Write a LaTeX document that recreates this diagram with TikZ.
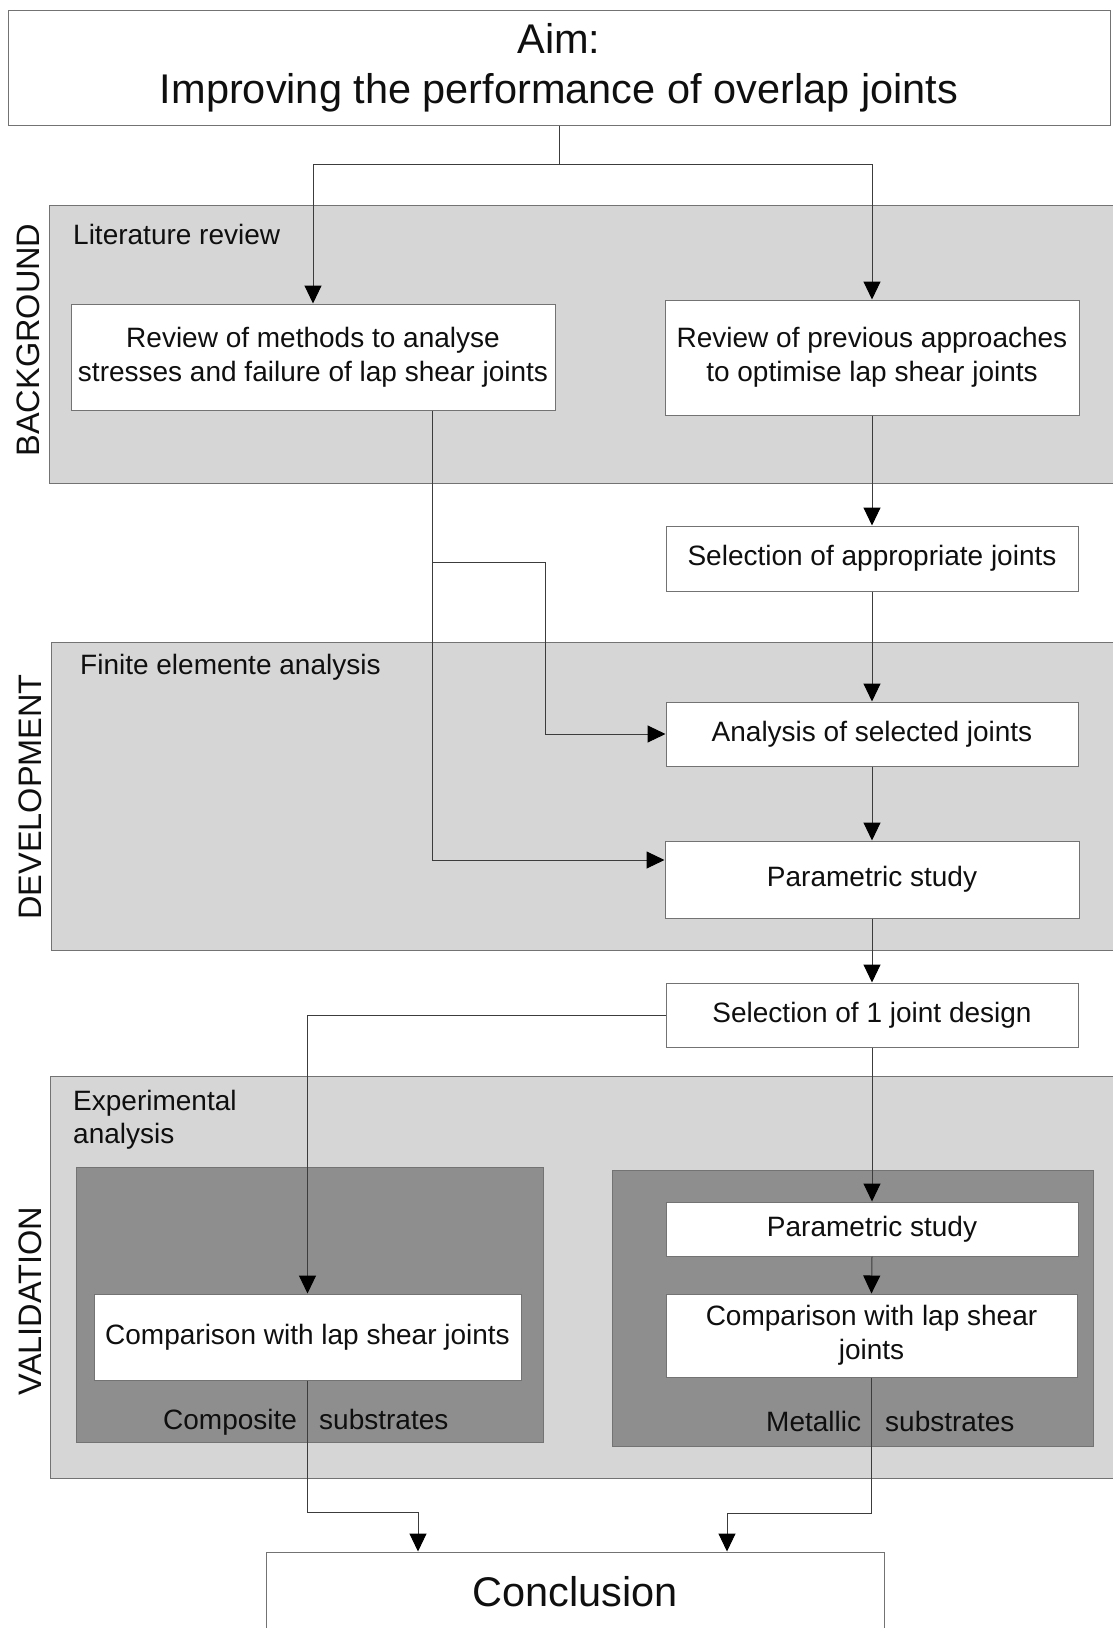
\documentclass[tikz,border=0pt]{standalone}
\usepackage{fontspec}
\setmainfont{Liberation Sans}
\usetikzlibrary{arrows.meta}
\definecolor{bandgray}{RGB}{214,214,214}
\definecolor{darkgray}{RGB}{142,142,142}
\definecolor{edgegray}{RGB}{115,115,115}
\definecolor{linegray}{RGB}{60,60,60}
\definecolor{txt}{RGB}{15,15,15}
\tikzset{
  box/.style={draw=edgegray, line width=1pt, fill=white, align=center, inner sep=0pt, text=txt,
    font=\fontsize{28}{34}\selectfont},
  band/.style={draw=edgegray, line width=1pt, fill=bandgray},
  inner/.style={draw=edgegray, line width=1pt, fill=darkgray},
  lbl/.style={text=txt, font=\fontsize{28}{34}\selectfont, inner sep=0pt, align=left},
  sidelbl/.style={text=txt, font=\fontsize{32.5}{36}\selectfont, inner sep=0pt, rotate=90},
  conn/.style={draw=linegray, line width=1pt},
  arr/.style={conn, -{Triangle[length=18pt,width=17pt,fill=black,color=black]}}
}
\begin{document}
\begin{tikzpicture}[x=1pt,y=-1pt]
\useasboundingbox[fill=white] (0,0) rectangle (1112,1628);

% bands
\path[band] (49,205) rectangle (1113,483);
\path[band] (51,642) rectangle (1113,950);
\path[band] (50,1076) rectangle (1113,1478);
\path[inner] (76,1167) rectangle (543,1442);
\path[inner] (612,1170) rectangle (1093,1446);

% side labels
\node[sidelbl] (lbg) at (28,340) {BACKGROUND};
\node[sidelbl] (ldev) at (30,797) {DEVELOPMENT};
\node[sidelbl] (lval) at (30,1301) {VALIDATION};

% band titles
\node[lbl, anchor=west] (tlit) at (73,234) {Literature review};
\node[lbl, anchor=west] (tfea) at (80,667) {Finite elemente analysis};
\node[lbl, anchor=north west, font=\fontsize{28}{33}\selectfont] (texp) at (73,1090) {Experimental\\analysis};
\node[lbl, anchor=base west] (tcomp) at (163,1429) {Composite};
\node[lbl, anchor=base west] (tsub1) at (319,1429) {substrates};
\node[lbl, anchor=base west] (tmet) at (766,1431) {Metallic};
\node[lbl, anchor=base west] (tsub2) at (885,1431) {substrates};

% boxes
\node[box, minimum width=1102pt, minimum height=115pt, font=\fontsize{41.5}{50}\selectfont] (aim) at (559,67.5) {Aim:\\Improving the performance of overlap joints};
\node[box, minimum width=484pt, minimum height=106pt] (rev1) at (313,357) {Review of methods to analyse\\stresses and failure of lap shear joints};
\node[box, minimum width=414pt, minimum height=115pt] (rev2) at (872,357.5) {Review of previous approaches\\to optimise lap shear joints};
\node[box, minimum width=412pt, minimum height=65pt] (sel) at (872,558.5) {Selection of appropriate joints};
\node[box, minimum width=412pt, minimum height=64pt] (ana) at (872,734) {Analysis of selected joints};
\node[box, minimum width=414pt, minimum height=77pt] (par) at (872,879.5) {Parametric study};
\node[box, minimum width=412pt, minimum height=64pt] (sel1) at (872,1015) {Selection of 1 joint design};
\node[box, minimum width=412pt, minimum height=54pt] (par2) at (872,1229) {Parametric study};
\node[box, minimum width=411pt, minimum height=83pt] (cmp2) at (871.5,1335.5) {Comparison with lap shear\\joints};
\node[box, minimum width=427pt, minimum height=86pt] (cmp1) at (307.5,1337) {Comparison with lap shear joints};
\node[box, minimum width=618pt, minimum height=80pt, font=\fontsize{41.5}{50}\selectfont] (conc) at (575,1592) {Conclusion};

% connectors
\coordinate (j1) at (559,164);
\draw[conn] (aim.south) -- (j1);
\draw[arr] (j1) -| (rev1.north);
\draw[arr] (j1) -| (rev2.north);
\draw[arr] (rev2.south) -- (sel.north);
\draw[arr] (sel.south) -- (ana.north);
\draw[arr] (ana.south) -- (par.north);
\draw[arr] (par.south) -- (sel1.north);

\coordinate (L1) at (432,860);
\coordinate (B1) at (432,562);
\coordinate (B2) at (545,562);
\draw[arr] (rev1.south -| L1) -- (L1) -- (par.west |- L1);
\draw[arr] (B1) -- (B2) -- (B2 |- ana.west) -- (ana.west);

\draw[arr] (sel1.west) -| (cmp1.north);
\draw[arr] (sel1.south) -- (par2.north);
\draw[arr] (par2.south) -- (cmp2.north);

\coordinate (c1) at (418,1512);
\coordinate (c2) at (727,1513);
\draw[arr] (cmp1.south) |- (c1) -- (c1 |- conc.north);
\draw[arr] (cmp2.south) |- (c2) -- (c2 |- conc.north);
\end{tikzpicture}
\end{document}
